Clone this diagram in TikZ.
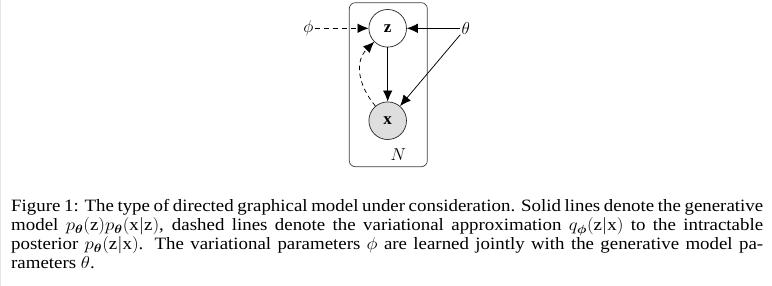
\documentclass[tikz,border=0pt]{standalone}
\usepackage{amsmath}
\usepackage{fontspec}
\setmainfont{Liberation Serif}
\usetikzlibrary{arrows.meta}
\newcommand{\bth}{\boldsymbol{\theta}}
\newcommand{\capfont}{\fontsize{17.3}{19}\selectfont}
\newcommand{\capline}[1]{\scalebox{1.092}[1]{\capfont\makebox[688.6pt][s]{#1}}}
\begin{document}
\begin{tikzpicture}[x=1pt,y=-1pt,
  every node/.style={font=\fontsize{17}{19}\selectfont},
  var/.style={circle,draw=black!85,line width=0.7pt,minimum size=37.6pt,inner sep=0pt},
  obs/.style={var,fill=black!13},
  param/.style={inner sep=1pt,font=\fontsize{18}{20}\selectfont},
  edge/.style={line width=0.75pt,-{Latex[length=11pt,width=9.5pt]}},
  dedge/.style={edge,dash pattern=on 5pt off 4pt},
  captext/.style={anchor=base west,inner sep=0pt},
  plate/.style={draw=black!75,line width=0.7pt,rounded corners=6pt}]
\useasboundingbox (0,0) rectangle (772,286);
\fill[white] (0,0) rectangle (772,286);
\draw[black!10,line width=1pt] (0.5,0) -- (0.5,286);
% plate
\draw[plate] (349.3,2.7) rectangle (427.3,166.7);
% nodes
\node[var] (z) at (387.7,28.3) {$\mathbf{z}$};
\node[obs] (x) at (387.7,120.7) {$\mathbf{x}$};
\node[param] (phi) at (308.3,28.3) {$\phi$};
\node[param] (theta) at (465.7,28.3) {$\theta$};
\node[param] (N) at (398.3,155) {$N$};
% edges
\draw[dedge] (phi) -- (z);
\draw[edge] (theta) -- (z);
\draw[edge] (theta) -- (x);
\draw[edge] (z) -- (x);
\draw[dedge,dash pattern=on 4.5pt off 3.5pt] (x) to[out=130,in=225,looseness=1.1] (z);
% caption
\node[captext] (c1) at (11,212) {\capline{Figure 1: The type of directed graphical model under consideration. Solid lines denote the generative}};
\node[captext] (c2) at (11,231) {\capline{model $p_{\bth}(\mathrm{z})p_{\bth}(\mathrm{x}|\mathrm{z})$, dashed lines denote the variational approximation $q_{\boldsymbol{\phi}}(\mathrm{z}|\mathrm{x})$ to the intractable}};
\node[captext] (c3) at (11,250) {\capline{posterior $p_{\bth}(\mathrm{z}|\mathrm{x})$. The variational parameters $\phi$ are learned jointly with the generative model pa-}};
\node[captext] (c4) at (11,269) {\scalebox{1.092}[1]{\capfont rameters $\theta$.}};
\end{tikzpicture}
\end{document}
